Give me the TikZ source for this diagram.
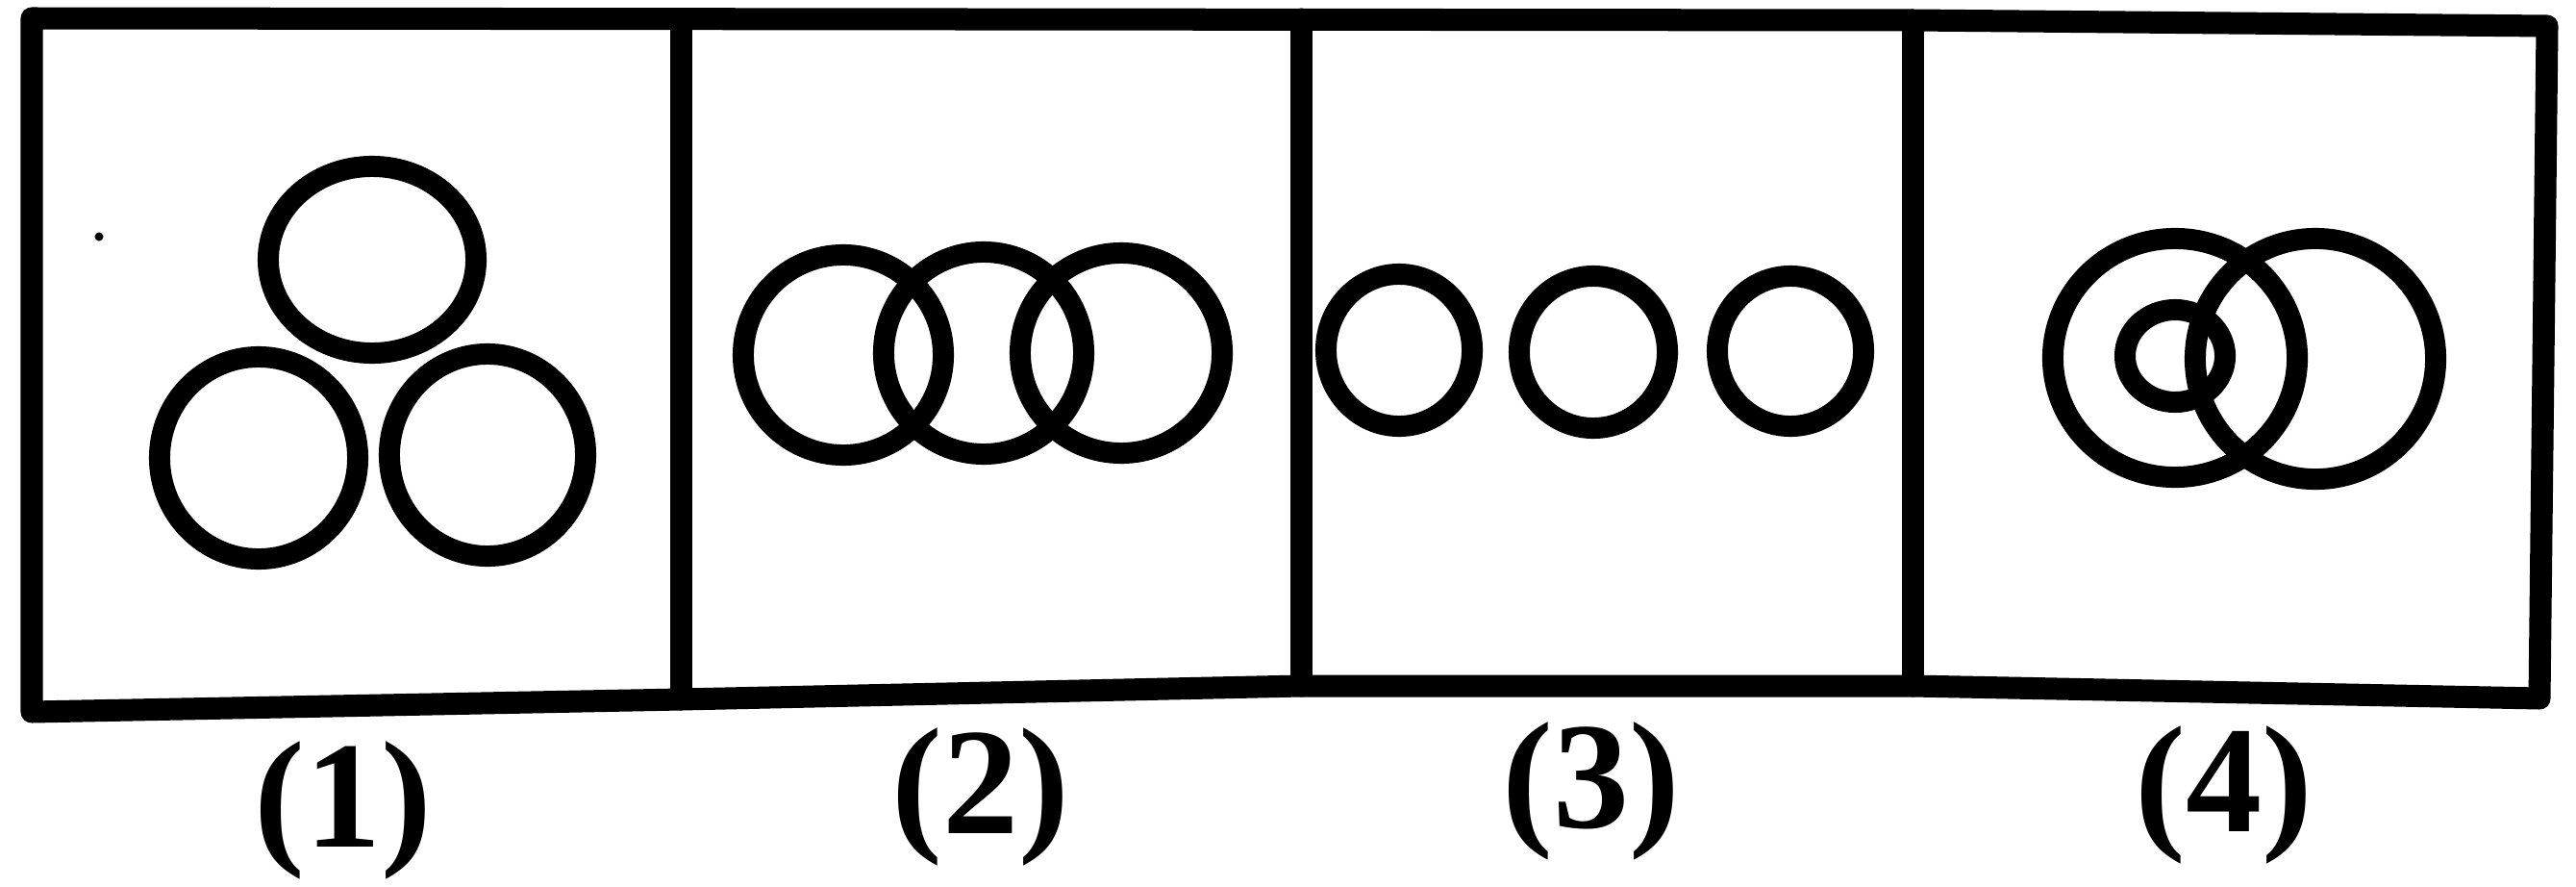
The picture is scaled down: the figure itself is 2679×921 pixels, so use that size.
\documentclass[tikz,border=0pt]{standalone}
\usepackage{fontspec}
\newfontfamily\lblfont{Liberation Serif}
\begin{document}
\begin{tikzpicture}[x=0.01cm,y=-0.01cm,
  frame/.style={line width=0.23cm,line join=round,line cap=round},
  ring/.style={line width=0.22cm},
  lbl/.style={font=\lblfont\bfseries\fontsize{45}{48}\selectfont,inner sep=0pt}]
\useasboundingbox (0,0) rectangle (2679,921);
% outer frame
\draw[frame] (33,19) -- (1000,20) -- (1989,21) -- (2649,27) -- (2641,726)
  -- (1989,713) -- (1353,713) -- (708,727) -- (33,740) -- cycle;
% dividers
\draw[frame] (708,20) -- (708,727);
\draw[frame] (1353,20) -- (1353,713);
\draw[frame] (1989,21) -- (1989,713);
% speck
\fill (103,246) circle[radius=0.045cm];
% panel 1
\draw[ring] (387,270) ellipse[x radius=1.08cm,y radius=0.97cm];
\draw[ring] (269,476) ellipse[x radius=1.03cm,y radius=1.05cm];
\draw[ring] (507,473) ellipse[x radius=1.02cm,y radius=1.05cm];
% panel 2
\draw[ring] (877,369) ellipse[x radius=1.04cm,y radius=1.04cm];
\draw[ring] (1023,367) ellipse[x radius=1.04cm,y radius=1.05cm];
\draw[ring] (1166,367) ellipse[x radius=1.05cm,y radius=1.04cm];
% panel 3
\draw[ring] (1455,364) ellipse[x radius=0.76cm,y radius=0.79cm];
\draw[ring] (1657,366) ellipse[x radius=0.77cm,y radius=0.79cm];
\draw[ring] (1862,365) ellipse[x radius=0.76cm,y radius=0.78cm];
% panel 4
\draw[ring] (2262,372) ellipse[x radius=1.27cm,y radius=1.24cm];
\draw[ring] (2408,373) ellipse[x radius=1.25cm,y radius=1.25cm];
\draw[ring] (2262,370) ellipse[x radius=0.52cm,y radius=0.48cm];
% labels
\node[lbl] (l1) at (357,842) {(1)};
\node[lbl] (l2) at (1020,828) {(2)};
\node[lbl] (l3) at (1655,822) {(3)};
\node[lbl] (l4) at (2313,826) {(4)};
\end{tikzpicture}
\end{document}
